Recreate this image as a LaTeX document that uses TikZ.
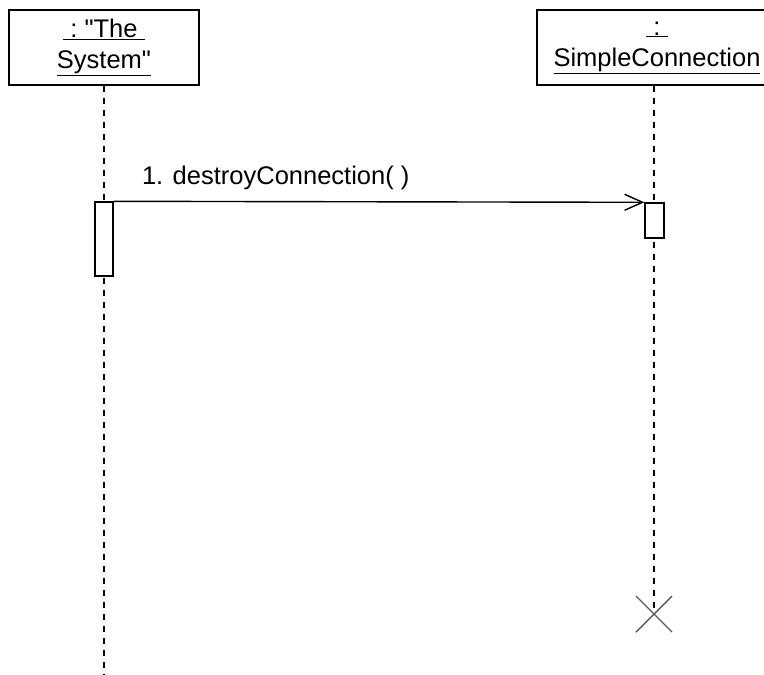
\documentclass[tikz,border=0pt]{standalone}
\usepackage{fontspec}
\setmainfont{Liberation Sans}
\usetikzlibrary{arrows.meta}

\begin{document}
\begin{tikzpicture}[x=1pt,y=-1pt,line width=1.4pt,
    obj/.style={draw,minimum height=75pt,align=center,inner sep=0pt,
      font=\fontsize{25.5}{31}\selectfont},
    act/.style={draw,fill=white,inner sep=0pt},
    life/.style={line width=1.2pt,dash pattern=on 6pt off 6pt}]
\useasboundingbox (0,0) rectangle (764,675);

\node[obj,minimum width=190pt] (sys) at (104,47.5)
  {\underline{\ :\ \textquotedbl The\ }\\\underline{System\textquotedbl}};
\node[obj,minimum width=240pt] (conn) at (657,47.5)
  {\underline{\ :\ }\\\underline{SimpleConnection}};

\coordinate (sysend) at (104,675);
\coordinate (kill) at (654,614);

\draw[life] (sys.south) -- (sysend);
\draw[life] (conn.south -| kill) -- (kill);

\node[act,minimum width=18pt,minimum height=74pt] (a1) at (104,239) {};
\node[act,minimum width=19pt,minimum height=35pt] (a2) at (654.5,220.5) {};

\draw[-{Straight Barb[length=18pt,width=16pt]}] (a1.north east) -- (a2.north west);
\node[anchor=base west,font=\fontsize{25.5}{31}\selectfont] (msg) at (138,184)
  {1. destroyConnection( )};

\draw[gray!70!black] (kill) +(-18,-18) -- +(18,18);
\draw[gray!70!black] (kill) +(-18,18) -- +(18,-18);

\end{tikzpicture}
\end{document}
